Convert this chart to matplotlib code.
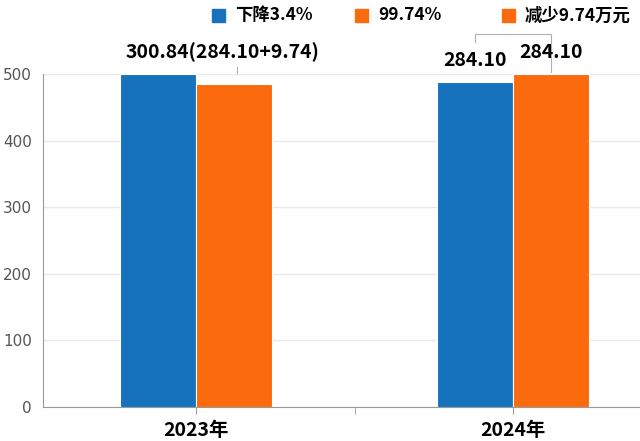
import matplotlib.pyplot as plt
from matplotlib.patches import Rectangle

plt.rcParams['font.family'] = ['Noto Sans CJK SC', 'DejaVu Sans']

# data
years = ['2023年', '2024年']
blue_vals = [500, 488]
orange_vals = [485, 500]
legend_labels = ['下降3.4%', '99.74%', '减少9.74万元']
top_labels = ['300.84(284.10+9.74)', '284.10', '284.10']

blue = '#1672bd'
orange = '#fb6a0d'

fig = plt.figure(figsize=(6.4, 4.41), dpi=100)
ax = fig.add_axes([0.067, 0.077, 0.933, 0.755])

x = [0, 1]
w = 0.24
ax.bar([i - w / 2 for i in x], blue_vals, width=w, color=blue, edgecolor='white', linewidth=0.8, zorder=3)
ax.bar([i + w / 2 for i in x], orange_vals, width=w, color=orange, edgecolor='white', linewidth=0.8, zorder=3)

ax.set_xlim(-0.483, 1.4)
ax.set_ylim(0, 500)
ax.set_yticks([0, 100, 200, 300, 400, 500])
ax.set_xticks(x)
ax.set_xticklabels(years, fontsize=14, fontweight='bold')
ax.set_xticks([0.5], minor=True)
ax.tick_params(axis='x', which='both', length=5, color='#999999', pad=5)
ax.tick_params(axis='y', length=0, pad=8)
for lab in ax.get_yticklabels():
    lab.set_family('DejaVu Sans')
    lab.set_fontsize(11)
    lab.set_color('#555555')
ax.grid(axis='y', color='#e6e9ee', linewidth=1, zorder=0)
for s in ['top', 'right']:
    ax.spines[s].set_visible(False)
ax.spines['left'].set_color('#999999')
ax.spines['bottom'].set_color('#999999')

# value labels
ax.text(0.082, 533, top_labels[0], ha='center', va='center', fontsize=14, fontweight='bold', clip_on=False)
ax.text(1 - w / 2, 521, top_labels[1], ha='center', va='center', fontsize=14, fontweight='bold', clip_on=False)
ax.text(1 + w / 2, 533, top_labels[2], ha='center', va='center', fontsize=14, fontweight='bold', clip_on=False)

# bracket over 2024
ax.plot([1 - w / 2, 1 - w / 2, 1 + w / 2, 1 + w / 2], [548, 560, 560, 503],
        color='#b0b0b0', linewidth=0.8, clip_on=False)
ax.plot([0.13, 0.13], [502, 510], color='#b0b0b0', linewidth=0.8, clip_on=False)

# legend (manual placement)
leg_colors = [blue, orange, orange]
leg_x = [212, 355, 502]
for lx, c, t in zip(leg_x, leg_colors, legend_labels):
    fig.patches.append(Rectangle((lx / 640, 1 - 22 / 441), 13 / 640, 13 / 441,
                                 transform=fig.transFigure, color=c))
    fig.text((lx + 23) / 640, 1 - 15.5 / 441, t, ha='left', va='center',
             fontsize=12.5, fontweight='bold')

fig.savefig('out.png', dpi=100)
